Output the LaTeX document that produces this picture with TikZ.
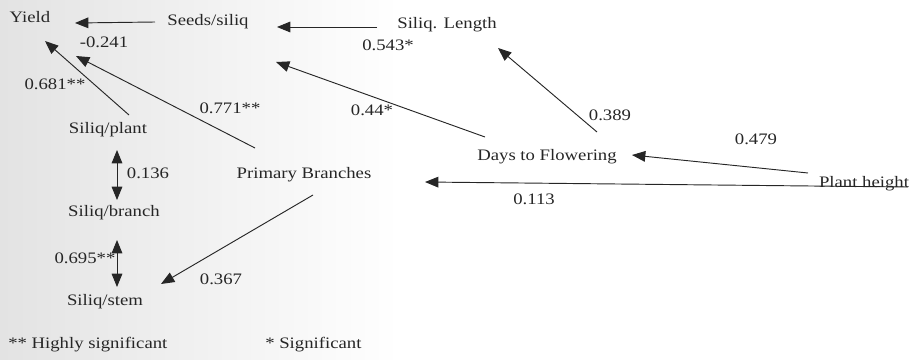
\documentclass[tikz,border=0pt]{standalone}
\usepackage{fontspec}
\setmainfont{Liberation Serif}[FakeStretch=1.17]
\usetikzlibrary{arrows.meta,calc}
\begin{document}
\begin{tikzpicture}[x=0.75pt,y=-0.75pt,
  lbl/.style={font=\fontsize{12}{14}\selectfont, text=black!85, inner sep=0pt},
  arr/.style={draw=black!85, line width=0.7pt, -{Triangle[length=10pt,width=8pt]}},
  darr/.style={draw=black!85, line width=0.7pt, {Triangle[length=10pt,width=8pt]}-{Triangle[length=10pt,width=8pt]}}]
\useasboundingbox (0,0) rectangle (913,360);
\shade[left color=black!11, right color=white] (0,0) rectangle (400,360);
% nodes
\node[lbl] (yield) at (30,17) {Yield};
\node[lbl] (seeds) at (208,22) {Seeds/siliq};
\node[lbl] (sl) at (447,25) {Siliq. Length};
\node[lbl] (sp) at (108,130) {Siliq/plant};
\node[lbl] (sb) at (114,213) {Siliq/branch};
\node[lbl] (ss) at (105,302) {Siliq/stem};
\node[lbl] (pb) at (304,175) {Primary Branches};
\node[lbl] (dtf) at (547,157) {Days to Flowering};
\node[lbl] (ph) at (864,184) {Plant height};
% coefficient labels
\node[lbl] (l1) at (104,42) {-0.241};
\node[lbl] (l2) at (388,45) {0.543*};
\node[lbl] (l3) at (55,84) {0.681**};
\node[lbl] (l4) at (230,108) {0.771**};
\node[lbl] (l5) at (372,110) {0.44*};
\node[lbl] (l6) at (610,115) {0.389};
\node[lbl] (l7) at (756,139) {0.479};
\node[lbl] (l8) at (148,173) {0.136};
\node[lbl] (l9) at (534,199) {0.113};
\node[lbl] (l10) at (85,258) {0.695**};
\node[lbl] (l11) at (221,279) {0.367};
\node[lbl, anchor=west] (n1) at (8,345) {** Highly significant};
\node[lbl, anchor=west] (n2) at (265,345) {* Significant};
% connectors
\draw[arr] ($(seeds)+(-53,0)$) -- ($(yield)+(45,6)$);
\draw[arr] ($(sl)+(-70,2)$) -- ($(seeds)+(69,5)$);
\draw[arr] ($(sp)+(21,-15)$) -- ($(yield)+(15,24)$);
\draw[arr] ($(pb)+(-49,-27)$) -- ($(yield)+(46,39)$);
\draw[arr] ($(dtf)+(-62,-20)$) -- ($(seeds)+(68,40)$);
\draw[arr] ($(dtf)+(50,-25)$) -- ($(sl)+(51,23)$);
\draw[arr] ($(ph)+(-56,-11)$) -- ($(dtf)+(85,-2)$);
\draw[arr] ($(ph)+(44,3)$) -- ($(pb)+(121,7)$);
\draw[arr] ($(pb)+(9,20)$) -- ($(ss)+(56,-18)$);
\draw[darr] ($(sp)+(9,20)$) -- ($(sb)+(3,-13)$);
\draw[darr] ($(sb)+(3,27)$) -- ($(ss)+(12,-15)$);
\end{tikzpicture}
\end{document}
